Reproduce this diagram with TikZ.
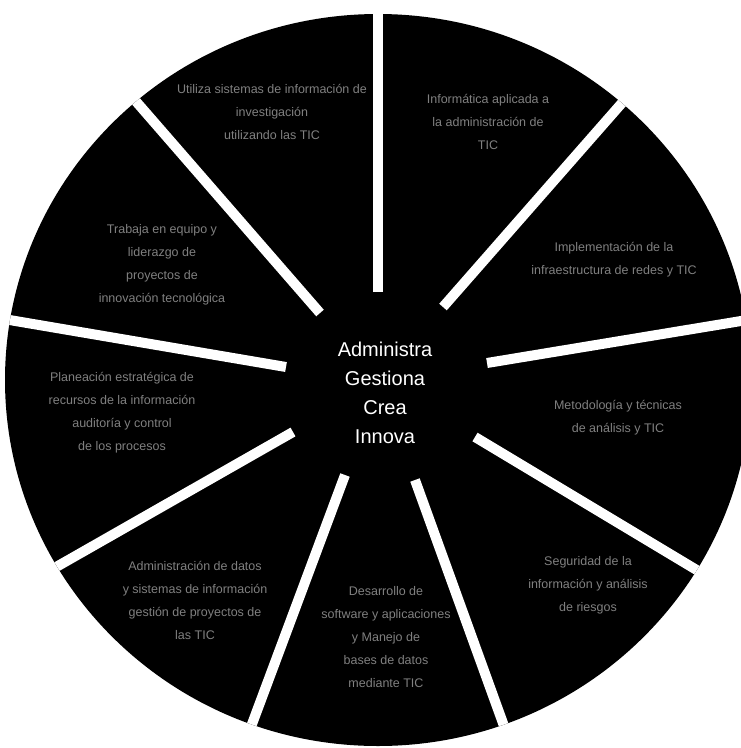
\documentclass[tikz,border=0pt]{standalone}
\usepackage{fontspec}
\setmainfont{Liberation Sans}
\begin{document}
\begin{tikzpicture}[x=1pt,y=-1pt,
  sepline/.style={draw=white,line width=10pt,line cap=butt},
  segtxt/.style={text=black!50,align=center,font=\fontsize{12.5}{23}\selectfont,inner sep=0pt},
  hubtxt/.style={text=white,align=center,font=\fontsize{20}{29}\selectfont,inner sep=0pt}]
\useasboundingbox[fill=white] (0,0) rectangle (741,748);
\clip (0,0) rectangle (741,748);
\coordinate (c) at (378,380);
\fill[black] (c) ellipse[x radius=373pt,y radius=366pt];
\begin{scope}
  \clip (c) ellipse[x radius=373pt,y radius=366pt];
  \coordinate (s1) at (378,292);
  \coordinate (s2) at (443,307);
  \coordinate (s3) at (487,363);
  \coordinate (s4) at (475,437);
  \coordinate (s5) at (415,480);
  \coordinate (s6) at (345,475);
  \coordinate (s7) at (293,432);
  \coordinate (s8) at (286,367);
  \coordinate (s9) at (320,313);
  \draw[sepline] (s1) -- ++(0,-400);
  \draw[sepline] (s2) -- ++(250,-285);
  \draw[sepline] (s3) -- ++(300,-49.6);
  \draw[sepline] (s4) -- ++(300,180);
  \draw[sepline] (s5) -- ++(110,304);
  \draw[sepline] (s6) -- ++(-112,300);
  \draw[sepline] (s7) -- ++(-300,171);
  \draw[sepline] (s8) -- ++(-300,-51);
  \draw[sepline] (s9) -- ++(-220,-253);
\end{scope}
\node[hubtxt] (hub) at (385,393) {Administra\\Gestiona\\Crea\\Innova};
\node[segtxt] (t1) at (272,112) {Utiliza sistemas de información de\\investigación\\utilizando las TIC};
\node[segtxt] (t2) at (488,122) {Informática aplicada a\\la administración de\\TIC};
\node[segtxt] (t3) at (614,260) {Implementación de la\\infraestructura de redes y TIC};
\node[segtxt] (t4) at (618,418) {Metodología y técnicas\\de análisis y TIC};
\node[segtxt] (t5) at (588,585) {Seguridad de la\\información y análisis\\de riesgos};
\node[segtxt] (t6) at (386,637) {Desarrollo de\\software y aplicaciones\\y Manejo de\\bases de datos\\mediante TIC};
\node[segtxt] (t7) at (195,600) {Administración de datos\\y sistemas de información\\gestión de proyectos de\\las TIC};
\node[segtxt] (t8) at (122,413) {Planeación estratégica de\\recursos de la información\\auditoría y control\\de los procesos};
\node[segtxt] (t9) at (162,265) {Trabaja en equipo y\\liderazgo de\\proyectos de\\innovación tecnológica};
\end{tikzpicture}
\end{document}
